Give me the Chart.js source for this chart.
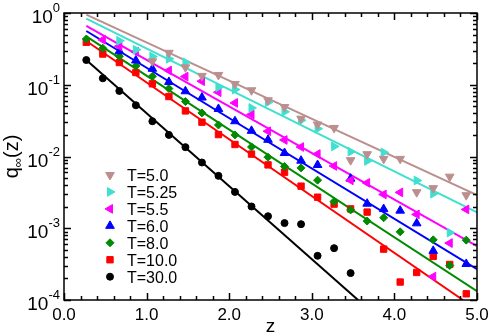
<!DOCTYPE html>
<html lang="en">
<head>
<meta charset="UTF-8" />
<title>q(z) decay</title>
<script src="https://cdn.jsdelivr.net/npm/chart.js"></script>
<style>
    body { margin: 0; background: #fff; }
    #chart { display: block; }
</style>
</head>
<body>
<canvas id="chart" width="491" height="335"></canvas>
<script>
// z positions of the measured points
const zValues = [0.27, 0.47, 0.67, 0.87, 1.07, 1.27, 1.47, 1.67, 1.87, 2.07, 2.27, 2.47,
                 2.67, 2.87, 3.07, 3.27, 3.47, 3.67, 3.87, 4.07, 4.27, 4.47, 4.67, 4.87];

// q_inf(z) for each temperature (null = no point)
const qT50  = [null, null, null, null, 0.212, 0.279, 0.175, 0.133, 0.137, 0.1026, 0.0838, 0.0608,
               0.0489, 0.0336, 0.0279, 0.0250, 0.00888, 0.01076, 0.00927, 0.00927, 0.00318, 0.00362, 0.00524, 0.00289];
const qT525 = [null, null, 0.410, 0.307, 0.247, 0.230, 0.206, null, 0.0923, 0.0857, 0.0475, 0.0570,
               0.0421, 0.0320, 0.0244, 0.01383, 0.01167, 0.00865, 0.01140, null, 0.00463, 0.00303, 0.000869, null];
const qT55  = [null, 0.423, 0.344, 0.288, null, 0.158, 0.130, 0.112, 0.0787, 0.0558, 0.0385, 0.0225,
               0.0170, 0.01357, 0.01083, 0.00738, 0.00465, 0.00429, 0.00296, 0.00316, 0.00156, 0.000212, 0.000621, 0.00183];
const qT60  = [null, null, 0.293, 0.218, 0.167, 0.1094, 0.0811, 0.0663, 0.0460, 0.0310, 0.0228, 0.0171,
               0.01119, 0.00874, 0.00762, null, 0.00491, 0.00220, 0.00185, 0.00176, 0.00117, 0.000484, null, 0.000318];
const qT80  = [0.434, 0.322, 0.249, 0.183, 0.131, 0.0885, 0.0583, 0.0405, 0.0275, 0.0200, 0.0136, 0.00977,
               0.00726, 0.00694, 0.00468, 0.00236, 0.00180, 0.00126, 0.00140, 0.000891, null, 0.000690, 0.000303, 0.000683];
const qT100 = [0.391, 0.268, 0.204, 0.148, 0.103, 0.0685, 0.0432, 0.0301, 0.0202, 0.0147, 0.0108, 0.00764,
               0.00604, 0.00386, 0.00271, 0.00217, 0.00186, 0.00168, 0.000512, 0.000178, 0.000242, 0.000405, 0.000313, 0.000122];
const qT300 = [0.221, 0.123, 0.0820, 0.0518, 0.0310, 0.0200, 0.0135, 0.00825, 0.00537, 0.00321, 0.00201, 0.00147,
               0.00118, 0.00114, 0.000413, 0.000528, 0.000237];

const seriesLabels = ['T=5.0', 'T=5.25', 'T=5.5', 'T=6.0', 'T=8.0', 'T=10.0', 'T=30.0'];
const seriesValues = [qT50, qT525, qT55, qT60, qT80, qT100, qT300];

// exponential fits: straight lines on the log axis, from fitStartZ to fitEndZ
const fitStartZ = 0.27;
const fitStartQ = [0.950, 0.836, 0.659, 0.561, 0.473, 0.407, 0.221];
const fitEndZ   = [5.0, 5.0, 5.0, 5.0, 5.0, 4.83, 3.56];
const fitEndQ   = [0.00289, 0.00166, 0.000563, 0.000269, 0.000133, 0.0001, 0.0001];

// axis ticks
const xTickValues = [0, 1, 2, 3, 4, 5];
const xTickLabels = ['0.0', '1.0', '2.0', '3.0', '4.0', '5.0'];
const yTickValues = [1e-4, 1e-3, 1e-2, 1e-1, 1];
const yTickExponents = ['-4', '-3', '-2', '-1', '0'];

const colors = ['#bc8f8f', '#40e0d0', '#ff00ff', '#0000ff', '#008b00', '#ff0000', '#000000'];
const styles = [
    { pointStyle: 'triangle', rotation: 180, radius: 5 },
    { pointStyle: 'triangle', rotation: 90, radius: 5 },
    { pointStyle: 'triangle', rotation: 270, radius: 5 },
    { pointStyle: 'triangle', rotation: 0, radius: 5 },
    { pointStyle: 'rectRot', rotation: 0, radius: 4 },
    { pointStyle: 'rect', rotation: 0, radius: 4.5 },
    { pointStyle: 'circle', rotation: 0, radius: 3.5 }
];

const FONT = '"Liberation Sans", Arial, sans-serif';

const datasets = [];
seriesValues.forEach((vals, i) => {
    const pts = [];
    vals.forEach((q, k) => { if (q !== null) pts.push({ x: zValues[k], y: q }); });
    datasets.push({
        label: seriesLabels[i],
        data: pts,
        pointStyle: styles[i].pointStyle,
        rotation: styles[i].rotation,
        pointRadius: styles[i].radius,
        backgroundColor: colors[i],
        borderColor: colors[i],
        borderWidth: 1,
        showLine: false
    });
});
seriesValues.forEach((vals, i) => {
    datasets.push({
        label: '',
        data: [{ x: fitStartZ, y: fitStartQ[i] }, { x: fitEndZ[i], y: fitEndQ[i] }],
        showLine: true,
        borderColor: colors[i],
        borderWidth: 2,
        pointRadius: 0
    });
});

// frame with inward ticks on all sides, labels, titles and legend
const framePlugin = {
    id: 'frame',
    afterDraw(chart) {
        const ctx = chart.ctx;
        const a = chart.chartArea;
        const xs = chart.scales.x, ys = chart.scales.y;
        ctx.save();
        ctx.strokeStyle = '#000';
        ctx.lineWidth = 1.5;

        ctx.beginPath();
        for (let i = 0; i <= 25; i++) {
            const px = Math.round(xs.getPixelForValue(i * 0.2)) + 0.5;
            const len = i % 5 === 0 ? 7 : 4;
            ctx.moveTo(px, a.bottom); ctx.lineTo(px, a.bottom - len);
            ctx.moveTo(px, a.top); ctx.lineTo(px, a.top + len);
        }
        for (let e = -4; e <= 0; e++) {
            for (let m = 1; m <= 9; m++) {
                if (e === 0 && m > 1) break;
                const py = Math.round(ys.getPixelForValue(m * Math.pow(10, e))) + 0.5;
                const len = m === 1 ? 7 : 4;
                ctx.moveTo(a.left, py); ctx.lineTo(a.left + len, py);
                ctx.moveTo(a.right, py); ctx.lineTo(a.right - len, py);
            }
        }
        ctx.stroke();
        ctx.strokeRect(a.left, a.top, a.right - a.left, a.bottom - a.top);

        ctx.fillStyle = '#000';
        ctx.textBaseline = 'alphabetic';

        // x tick labels
        ctx.font = '17px ' + FONT;
        ctx.textAlign = 'center';
        xTickValues.forEach((v, i) => {
            ctx.fillText(xTickLabels[i], xs.getPixelForValue(v), 320);
        });

        // y tick labels: 10 with superscript exponent
        ctx.textAlign = 'left';
        yTickValues.forEach((v, i) => {
            const py = ys.getPixelForValue(v);
            ctx.font = '13px ' + FONT;
            const wExp = ctx.measureText(yTickExponents[i]).width;
            ctx.font = '19px ' + FONT;
            const wTen = ctx.measureText('10').width;
            const x0 = 60 - wExp - wTen;
            ctx.fillText('10', x0, py + 10);
            ctx.font = '13px ' + FONT;
            ctx.fillText(yTickExponents[i], x0 + wTen, py - 1);
        });

        // x title
        ctx.font = '19px ' + FONT;
        ctx.textAlign = 'center';
        ctx.fillText('z', (a.left + a.right) / 2, 332);

        // y title q∞(z), rotated
        ctx.save();
        ctx.translate(18, (a.top + a.bottom) / 2);
        ctx.rotate(-Math.PI / 2);
        ctx.textAlign = 'left';
        ctx.font = '20px ' + FONT;
        const wq = ctx.measureText('q').width;
        const wz = ctx.measureText('(z)').width;
        ctx.font = '13px ' + FONT;
        const wi = ctx.measureText('\u221e').width;
        let tx = -(wq + wi + wz) / 2;
        ctx.font = '20px ' + FONT;
        ctx.fillText('q', tx, 0);
        tx += wq;
        ctx.font = '13px ' + FONT;
        ctx.fillText('\u221e', tx, 4);
        tx += wi;
        ctx.font = '20px ' + FONT;
        ctx.fillText('(z)', tx, 0);
        ctx.restore();

        // legend
        ctx.font = '16px ' + FONT;
        ctx.textAlign = 'left';
        seriesLabels.forEach((lab, i) => {
            const ly = 175 + i * 16.95;
            ctx.fillStyle = colors[i];
            ctx.strokeStyle = colors[i];
            ctx.lineWidth = 1;
            Chart.helpers.drawPoint(ctx, {
                pointStyle: styles[i].pointStyle,
                rotation: styles[i].rotation,
                radius: styles[i].radius,
                borderWidth: 1
            }, 110, ly);
            ctx.fillStyle = '#000';
            ctx.fillText(lab, 127, ly + 6);
        });
        ctx.restore();
    }
};

new Chart(document.getElementById('chart'), {
    type: 'scatter',
    data: { datasets: datasets },
    options: {
        responsive: false,
        animation: false,
        devicePixelRatio: 1,
        layout: { padding: { left: 64, right: 14, top: 13, bottom: 35 } },
        plugins: { legend: { display: false }, tooltip: { enabled: false } },
        scales: {
            x: { type: 'linear', min: 0, max: 5, display: false },
            y: { type: 'logarithmic', min: 1e-4, max: 1, display: false }
        }
    },
    plugins: [framePlugin]
});
</script>
</body>
</html>
